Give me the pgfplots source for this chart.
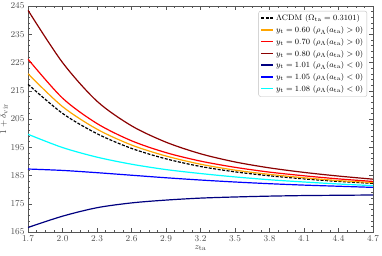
\documentclass[border=0pt]{standalone}
\usepackage{pgfplots}
\pgfplotsset{compat=1.18}
\definecolor{cdarkred}{HTML}{8B0000}
\definecolor{cnavy}{HTML}{000080}
\definecolor{corange}{HTML}{FFA500}
\definecolor{ccyan}{HTML}{00FFFF}
\definecolor{axgray}{HTML}{555555}
\begin{document}
\begin{tikzpicture}
\useasboundingbox (-28pt,-23pt) rectangle (354pt,232pt);
\begin{axis}[
  scale only axis,
  width=345pt, height=226pt,
  xmin=1.7, xmax=4.7, ymin=165, ymax=245,
  xtick={1.7,2.0,2.3,2.6,2.9,3.2,3.5,3.8,4.1,4.4,4.7},
  ytick={165,175,185,195,205,215,225,235,245},
  minor x tick num=3, minor y tick num=4,
  tick align=inside, ticks=both,
  xtick pos=both, ytick pos=both,
  major tick length=4pt, minor tick length=2pt,
  axis line style={axgray, line width=0.6pt},
  every tick/.style={axgray, line width=0.5pt},
  every minor tick/.style={axgray, line width=0.4pt},
  tick label style={font=\fontsize{9.5}{10}\selectfont, text=black!70},
  xticklabel style={/pgf/number format/.cd, fixed, fixed zerofill, precision=1},
  yticklabel style={/pgf/number format/.cd, fixed, precision=0},
  xlabel={$z_{\rm ta}$}, ylabel={$1+\delta_{\rm vir}$},
  label style={font=\fontsize{9.5}{10}\selectfont, text=black!75},
  xlabel style={yshift=3pt},
  ylabel style={yshift=-4pt},
  legend style={at={(0.983,0.978)}, anchor=north east, font=\fontsize{8}{9.5}\selectfont,
    draw=black!25, rounded corners=2pt, fill=white,
    row sep=0.2pt, inner sep=1.8pt},
  legend cell align=left,
  legend image code/.code={\draw[#1, line width=1.6pt] (0pt,0.5pt) -- (12pt,0.5pt);},
]
\addplot[black, line width=1.2pt, dash pattern=on 3pt off 1.5pt, smooth] coordinates {
(1.7,217.3) (2.0,207.0) (2.3,199.8) (2.6,194.6) (2.9,190.9) (3.2,188.2) (3.5,186.3) (3.8,184.9) (4.1,183.8) (4.4,182.9) (4.7,182.2)};
\addlegendentry{$\Lambda$CDM $(\Omega_{\rm ta}=0.3101)$}
\addplot[corange, line width=1.2pt, smooth] coordinates {
(1.7,221.0) (2.0,209.4) (2.3,201.4) (2.6,195.8) (2.9,191.9) (3.2,189.0) (3.5,186.9) (3.8,185.4) (4.1,184.2) (4.4,183.2) (4.7,182.5)};
\addlegendentry{$y_{\rm t}=0.60$ $(\rho_\Lambda(a_{\rm ta})>0)$}
\addplot[red, line width=1.2pt, smooth] coordinates {
(1.7,226.2) (2.0,212.4) (2.3,203.4) (2.6,197.3) (2.9,193.1) (3.2,190.1) (3.5,187.9) (3.8,186.2) (4.1,184.9) (4.4,183.8) (4.7,182.9)};
\addlegendentry{$y_{\rm t}=0.70$ $(\rho_\Lambda(a_{\rm ta})>0)$}
\addplot[cdarkred, line width=1.2pt, smooth] coordinates {
(1.7,243.5) (2.0,225.0) (2.3,211.3) (2.6,202.6) (2.9,196.8) (3.2,192.7) (3.5,189.8) (3.8,187.7) (4.1,186.1) (4.4,184.8) (4.7,183.7)};
\addlegendentry{$y_{\rm t}=0.80$ $(\rho_\Lambda(a_{\rm ta})>0)$}
\addplot[cnavy, line width=1.2pt, smooth] coordinates {
(1.7,166.6) (2.0,170.6) (2.3,173.6) (2.6,175.3) (2.9,176.3) (3.2,177.0) (3.5,177.4) (3.8,177.7) (4.1,177.9) (4.4,178.0) (4.7,178.1)};
\addlegendentry{$y_{\rm t}=1.01$ $(\rho_\Lambda(a_{\rm ta})<0)$}
\addplot[blue, line width=1.2pt, smooth] coordinates {
(1.7,187.3) (2.0,186.8) (2.3,186.0) (2.6,185.1) (2.9,184.2) (3.2,183.4) (3.5,182.7) (3.8,182.1) (4.1,181.6) (4.4,181.2) (4.7,180.8)};
\addlegendentry{$y_{\rm t}=1.05$ $(\rho_\Lambda(a_{\rm ta})<0)$}
\addplot[ccyan, line width=1.2pt, smooth] coordinates {
(1.7,199.6) (2.0,194.9) (2.3,191.5) (2.6,189.0) (2.9,187.1) (3.2,185.7) (3.5,184.5) (3.8,183.5) (4.1,182.7) (4.4,182.0) (4.7,181.4)};
\addlegendentry{$y_{\rm t}=1.08$ $(\rho_\Lambda(a_{\rm ta})<0)$}
\end{axis}
\end{tikzpicture}
\end{document}
